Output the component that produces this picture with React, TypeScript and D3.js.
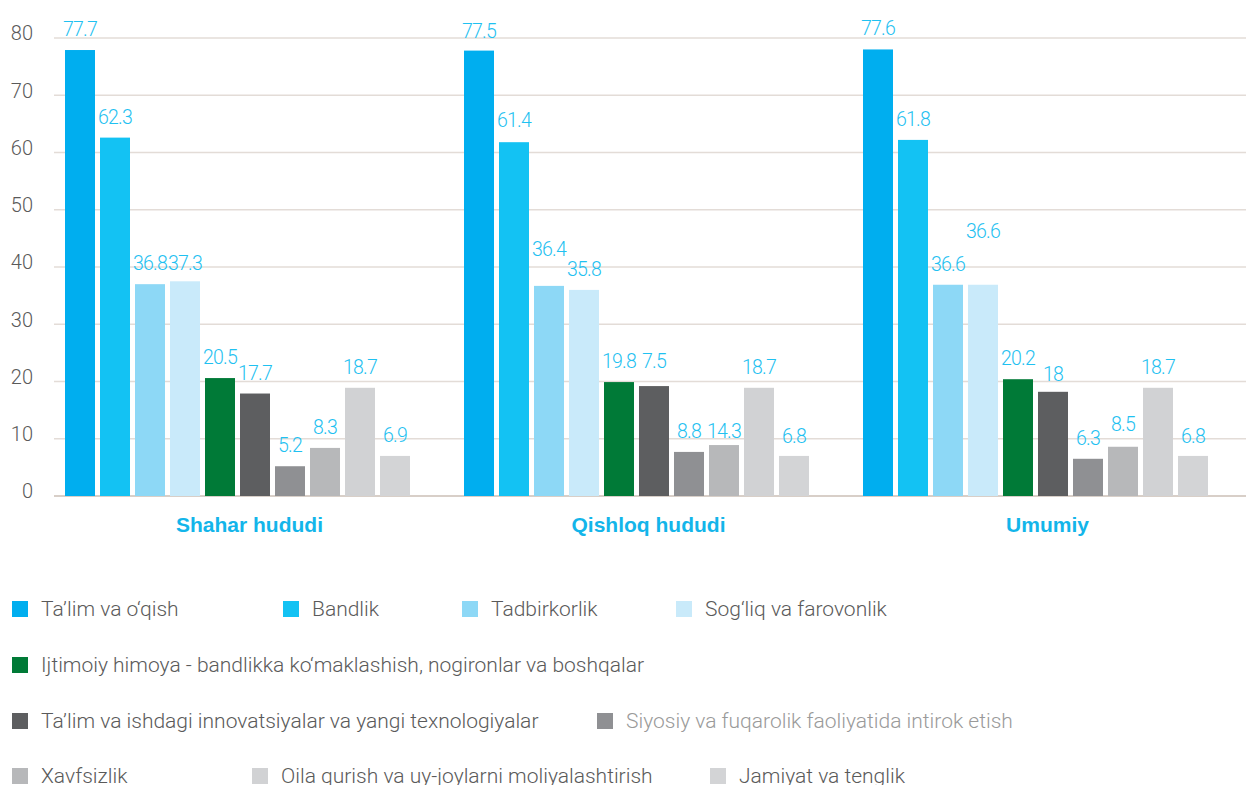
import React from "react";
import * as d3 from "d3";

const groups = ["Shahar hududi", "Qishloq hududi", "Umumiy"];

const series = [
  "Ta\u2019lim va o\u2018qish",
  "Bandlik",
  "Tadbirkorlik",
  "Sog\u2018liq va farovonlik",
  "Ijtimoiy himoya - bandlikka ko\u2018maklashish, nogironlar va boshqalar",
  "Ta\u2019lim va ishdagi innovatsiyalar va yangi texnologiyalar",
  "Siyosiy va fuqarolik faoliyatida intirok etish",
  "Xavfsizlik",
  "Oila qurish va uy-joylarni moliyalashtirish",
  "Jamiyat va tenglik",
];

const colors = [
  "#00aeef",
  "#13c2f3",
  "#8dd8f6",
  "#c9eafa",
  "#007a37",
  "#5d5e60",
  "#8f9093",
  "#b7b8ba",
  "#d1d2d4",
  "#d3d4d6",
];

// bar heights as drawn
const shaharValues = [77.9, 62.6, 37.0, 37.5, 20.6, 17.9, 5.2, 8.4, 18.9, 7.0];
const qishloqValues = [77.8, 61.8, 36.7, 36.0, 19.9, 19.2, 7.7, 8.9, 18.9, 7.0];
const umumiyValues = [78.0, 62.2, 36.9, 36.9, 20.4, 18.2, 6.5, 8.6, 18.9, 7.0];

// value labels as printed
const shaharLabels = ["77.7", "62.3", "36.8", "37.3", "20.5", "17.7", "5.2", "8.3", "18.7", "6.9"];
const qishloqLabels = ["77.5", "61.4", "36.4", "35.8", "19.8", "7.5", "8.8", "14.3", "18.7", "6.8"];
const umumiyLabels = ["77.6", "61.8", "36.6", "36.6", "20.2", "18", "6.3", "8.5", "18.7", "6.8"];

// value (in axis units) at which each printed label sits
const shaharLabelAt = [77.9, 62.6, 37.0, 37.0, 20.6, 17.9, 5.2, 8.4, 18.9, 7.0];
const qishloqLabelAt = [77.6, 62.0, 39.4, 36.0, 19.9, 19.9, 7.7, 7.7, 18.9, 6.8];
const umumiyLabelAt = [78.0, 62.2, 36.9, 42.7, 20.4, 17.6, 6.5, 8.9, 18.9, 6.8];

const yTicks = [0, 10, 20, 30, 40, 50, 60, 70, 80];

const groupValues = [shaharValues, qishloqValues, umumiyValues];
const groupLabels = [shaharLabels, qishloqLabels, umumiyLabels];
const groupLabelAt = [shaharLabelAt, qishloqLabelAt, umumiyLabelAt];

// legend layout: rows of series indices with their x offsets
const legendRows = [
  [[0, 12], [1, 283], [2, 462], [3, 676]],
  [[4, 12]],
  [[5, 12], [6, 597]],
  [[7, 12], [8, 252], [9, 710]],
];

const W = 1246;
const H = 785;
const plotLeft = 54;
const y0 = 496;
const y80 = 38;
const FONT = "Roboto, 'Helvetica Neue', Arial, sans-serif";

export default function App() {
  const y = d3.scaleLinear().domain([0, 80]).range([y0, y80]);
  const x0 = d3.scaleBand<string>().domain(groups).range([plotLeft, plotLeft + 399 * 3]).padding(0);
  const x1 = d3
    .scaleBand<string>()
    .domain(series)
    .range([11, 11 + 345])
    .paddingInner(1 / 7)
    .paddingOuter(0);

  return (
    <svg
      width={W}
      height={H}
      style={{ position: "absolute", left: 0, top: 0, background: "#fff" }}
      fontFamily={FONT}
    >
      {/* grid */}
      {yTicks.map((t) => (
        <g key={t}>
          <line
            x1={plotLeft}
            x2={W}
            y1={y(t)}
            y2={y(t)}
            stroke={t === 0 ? "#d8cfc8" : "#e3dcd7"}
            strokeWidth={t === 0 ? 2 : 1.3}
          />
          <text
            x={33}
            y={y(t) - 3}
            textAnchor="end"
            dominantBaseline="middle"
            fontSize={20}
            fontWeight={300}
            fill="#5a5a5a"
          >
            {t}
          </text>
        </g>
      ))}

      {/* bars */}
      {groups.map((g, gi) => {
        const gx = x0(g)!;
        return (
          <g key={g} transform={`translate(${gx},0)`}>
            {series.map((s, si) => {
              const v = groupValues[gi][si];
              return (
                <rect
                  key={s}
                  x={x1(s)!}
                  y={y(v)}
                  width={x1.bandwidth()}
                  height={y(0) - y(v)}
                  fill={colors[si]}
                />
              );
            })}
            {series.map((s, si) => (
              <text
                key={"l" + s}
                x={x1(s)! + x1.bandwidth() / 2}
                y={y(groupLabelAt[gi][si]) - 14}
                textAnchor="middle"
                fontSize={19.5}
                fontWeight={300}
                letterSpacing={-0.8}
                fill="#1fc1f1"
              >
                {groupLabels[gi][si]}
              </text>
            ))}
            <text
              x={11 + 345 / 2 + 12}
              y={532}
              textAnchor="middle"
              fontSize={21}
              fontWeight={700}
              fontFamily="'Liberation Sans', Arial, sans-serif"
              fill="#13b5ea"
            >
              {g}
            </text>
          </g>
        );
      })}

      {/* legend */}
      {legendRows.map((row, ri) =>
        row.map(([si, lx]) => {
          const cy = 609 + ri * 56 - (ri === 3 ? 1 : 0);
          return (
            <g key={si} transform={`translate(${lx},${cy})`}>
              <rect x={0} y={-8} width={16} height={16} fill={colors[si]} />
              <text
                x={29}
                y={0}
                dominantBaseline="central"
                fontSize={21}
                fontWeight={300}
                fill={si === 6 ? "#9a9a9a" : "#5a5a5a"}
              >
                {series[si]}
              </text>
            </g>
          );
        })
      )}
    </svg>
  );
}
